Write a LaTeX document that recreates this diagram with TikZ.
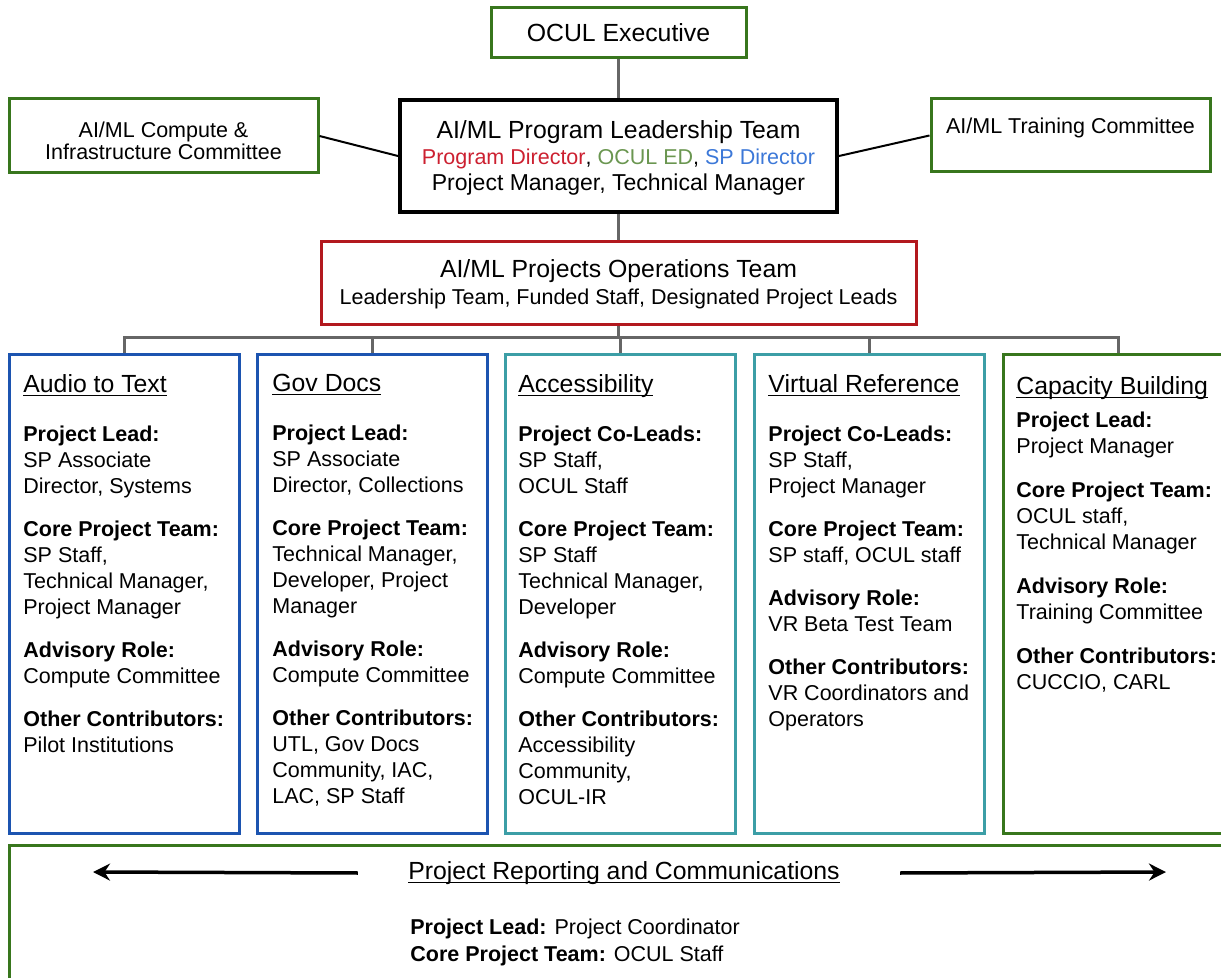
\documentclass[tikz,border=0pt]{standalone}
\usepackage{fontspec}
\setmainfont{Liberation Sans}
\usetikzlibrary{arrows.meta}
\definecolor{boxgreen}{RGB}{56,118,29}
\definecolor{boxred}{RGB}{178,24,30}
\definecolor{boxblue}{RGB}{28,84,176}
\definecolor{boxteal}{RGB}{60,158,166}
\definecolor{linegray}{RGB}{102,102,102}
\definecolor{pdred}{RGB}{204,32,48}
\definecolor{edgreen}{RGB}{106,150,80}
\definecolor{spblue}{RGB}{60,120,216}
\newcommand{\boxline}{1.5pt}
\newcommand{\parskipgap}{8.5pt}
\newcommand{\headfont}{\fontsize{12.4}{15}\selectfont}
\newcommand{\bodyfont}{\fontsize{10.75}{13}\selectfont}
\newcommand{\headul}[1]{{\headfont\setbox0=\hbox{#1}\rlap{\rule[-1.8pt]{\wd0}{0.7pt}}\box0}}
\tikzset{
  box/.style={draw, line width=\boxline, inner sep=0pt, align=center, font=\bodyfont},
  colbox/.style={draw, line width=\boxline, minimum width=115pt, minimum height=239pt},
  coltext/.style={anchor=north west, inner sep=0pt, align=left, font=\bodyfont},
  graylink/.style={draw=linegray, line width=1.5pt},
  blacklink/.style={draw=black, line width=1pt},
  reportarrow/.style={line width=1.75pt, -{Stealth[length=8.5pt,width=8.5pt]}}
}

\begin{document}
\begin{tikzpicture}[x=0.5pt, y=-0.5pt]
\useasboundingbox (0,0) rectangle (1221,978);
%top
\node[box, draw=boxgreen] (exec) at (618.5,33) [minimum width=127.5pt, minimum height=25pt] {\headfont OCUL Executive};
\node[box, line width=2pt] (lead) at (618.5,156) [minimum width=218.5pt, minimum height=56pt] {\rule{0pt}{11pt}{\headfont AI/ML Program Leadership Team}\\
{\color{pdred}Program Director}, {\color{edgreen}OCUL ED}, {\color{spblue}SP Director}\\
{\fontsize{11.5}{13}\selectfont Project Manager, Technical Manager}};
\node[box, draw=boxgreen] (comp) at (163.5,136) [minimum width=154.5pt, minimum height=37pt, font=\fontsize{10.75}{11}\selectfont] {\rule{0pt}{13pt}AI/ML Compute \&\\Infrastructure Committee};
\node[box, draw=boxgreen] (train) at (1070.5,135.5) [minimum width=139.5pt, minimum height=36.5pt, font=\fontsize{10.75}{11}\selectfont] {\rule{0pt}{9pt}AI/ML Training Committee\\ \mbox{}};
\node[box, draw=boxred] (ops) at (618.5,283.5) [minimum width=297.5pt, minimum height=41.5pt] {\rule{0pt}{10pt}{\headfont AI/ML Projects Operations Team}\\[0.5pt]
Leadership Team, Funded Staff, Designated Project Leads};
\draw[graylink] (exec) -- (lead);
\draw[graylink] (lead) -- (ops);
\draw[blacklink] (comp.east) -- (lead.west);
\draw[blacklink] (lead.east) -- (train.west);
%columns
\node[colbox, draw=boxblue] (1) at (124.5,594) {};
\node[colbox, draw=boxblue] (2) at (372,594) {};
\node[colbox, draw=boxteal] (3) at (620,594) {};
\node[colbox, draw=boxteal] (4) at (869.5,594) {};
\node[colbox, draw=boxgreen] (5) at (1118,594) {};
\coordinate (bus) at (618.5,338);
\draw[graylink] (ops) -- (bus);
\draw[graylink] (bus) -| (1);
\draw[graylink] (bus) -| (2);
\draw[graylink] (bus) -| (3);
\draw[graylink] (bus) -| (4);
\draw[graylink] (bus) -| (5);
\node[coltext] (t1) at (23,374) {\headul{Audio to Text}\\[11.5pt]
\textbf{Project Lead:}\\
SP Associate\\
Director, Systems\\[\parskipgap]
\textbf{Core Project Team:}\\
SP Staff,\\
Technical Manager,\\
Project Manager\\[\parskipgap]
\textbf{Advisory Role:}\\
Compute Committee\\[\parskipgap]
\textbf{Other Contributors:}\\
Pilot Institutions};
\node[coltext] (t2) at (272,374) {\headul{Gov Docs}\\[11.5pt]
\textbf{Project Lead:}\\
SP Associate\\
Director, Collections\\[\parskipgap]
\textbf{Core Project Team:}\\
Technical Manager,\\
Developer, Project\\
Manager\\[\parskipgap]
\textbf{Advisory Role:}\\
Compute Committee\\[\parskipgap]
\textbf{Other Contributors:}\\
UTL, Gov Docs\\
Community, IAC,\\
LAC, SP Staff};
\node[coltext] (t3) at (518,374) {\headul{Accessibility}\\[11.5pt]
\textbf{Project Co-Leads:}\\
SP Staff,\\
OCUL Staff\\[\parskipgap]
\textbf{Core Project Team:}\\
SP Staff\\
Technical Manager,\\
Developer\\[\parskipgap]
\textbf{Advisory Role:}\\
Compute Committee\\[\parskipgap]
\textbf{Other Contributors:}\\
Accessibility\\
Community,\\
OCUL-IR};
\node[coltext] (t4) at (768,374) {\headul{Virtual Reference}\\[11.5pt]
\textbf{Project Co-Leads:}\\
SP Staff,\\
Project Manager\\[\parskipgap]
\textbf{Core Project Team:}\\
SP staff, OCUL staff\\[\parskipgap]
\textbf{Advisory Role:}\\
VR Beta Test Team\\[\parskipgap]
\textbf{Other Contributors:}\\
VR Coordinators and\\
Operators};
\node[coltext] (t5) at (1016,376) {\headul{Capacity Building}\\[3.5pt]
\textbf{Project Lead:}\\
Project Manager\\[9pt]
\textbf{Core Project Team:}\\
OCUL staff,\\
Technical Manager\\[9pt]
\textbf{Advisory Role:}\\
Training Committee\\[9pt]
\textbf{Other Contributors:}\\
CUCCIO, CARL};
%bottom
\node[box, draw=boxgreen] (report) at (624.5,922.5) [minimum width=615.5pt, minimum height=77.5pt] {};
\node[inner sep=0pt] (rtitle) at (624,873) {\headul{Project Reporting and Communications}};
\node[coltext, anchor=west, font=\fontsize{10.75}{13.5}\selectfont] (rtext) at (410,942) {\textbf{Project Lead:} Project Coordinator\\
\textbf{Core Project Team:} OCUL Staff};
\coordinate (la) at (93,872);
\coordinate (ra) at (1166,872);
\draw[reportarrow] ([xshift=-25pt]rtitle.west) -- (la);
\draw[reportarrow] ([xshift=30pt]rtitle.east) -- (ra);
\end{tikzpicture}
\end{document}
